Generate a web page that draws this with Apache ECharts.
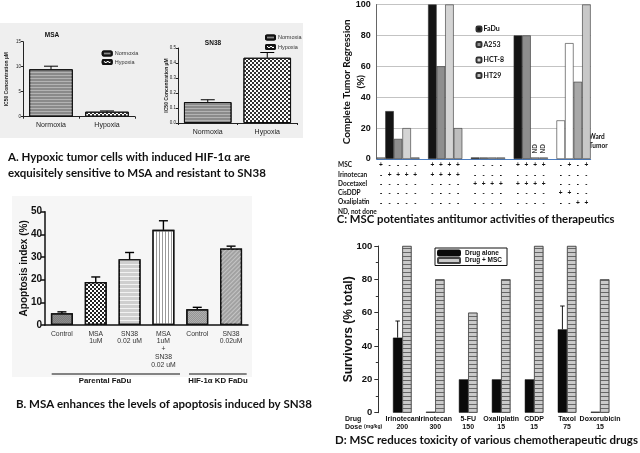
<!DOCTYPE html>
<html><head><meta charset="utf-8">
<script src="https://cdn.jsdelivr.net/npm/echarts@6/dist/echarts.min.js"></script>
<style>html,body{margin:0;padding:0;background:#fff}#c{width:640px;height:453px}</style>
</head><body><div id="c"></div>
<script>
// ---------- Panel A ----------
const aCategories = ['Normoxia', 'Hypoxia'];
const aMsaValues = [9.5, 1.0];
const aMsaErr = [10.1, 1.15];
const aSn38Values = [0.14, 0.435];
const aSn38Err = [0.155, 0.47];
const aMsaTicks = [0, 15, 5];
const aSn38Ticks = [0, 0.5, 0.1];

// ---------- Panel B ----------
const bCategories = ['Control', 'MSA\n1uM', 'SN38\n0.02 uM', 'MSA\n1uM\n+\nSN38\n0.02 uM', 'Control', 'SN38\n0.02uM'];
const bValues = [5.2, 19, 29, 42, 7, 33.8];
const bErr = [5.8, 21.2, 32, 46, 7.8, 34.8];
const bGroups = ['Parental FaDu', 'HIF-1α KD FaDu'];

// ---------- Panel C ----------
const cRowNames = ['MSC', 'Irinotecan', 'Docetaxel', 'CisDDP', 'Oxaliplatin', 'ND, not done'];
const cRowMSC         = '+----|++++|----|++++|-+-+';
const cRowIrinotecan  = '-++++|++++|----|----|----';
const cRowDocetaxel   = '-----|----|++++|++++|----';
const cRowCisDDP      = '-----|----|----|----|++--';
const cRowOxaliplatin = '-----|----|----|----|--++';
const cFaDu = [null,31,null,null,null, null,100,null,null,null, null,1,null,null,null, null,80,null,null,null, null,null,null,null,null];
const cA253 = [null,null,13,null,null, null,null,60,null,null, null,null,1,null,null, null,null,80,null,null, null,null,null,null,null];
const cHCT8 = [null,null,null,20,null, null,null,null,100,null, null,null,null,1,null, null,null,null,1,null, null,null,null,null,null];
const cHT29 = [null,null,null,null,1, null,null,null,null,20, null,null,null,null,1, null,null,null,null,1, null,null,null,null,null];
const cWard = [1,null,null,null,null, null,null,null,null,null, null,null,null,null,null, null,null,null,null,null, null,25,75,50,100];
const cNDSlots = [18, 19];

// ---------- Panel D ----------
const dCategories = ['Irinotecan\n200', 'Irinotecan\n300', '5-FU\n150', 'Oxaliplatin\n15', 'CDDP\n15', 'Taxol\n75', 'Doxorubicin\n15'];
const dDrugAlone = [45, 0.6, 20, 20, 20, 50, 0.6];
const dDrugAloneErr = [55, null, null, null, null, 64, null];
const dDrugMSC = [100, 80, 60, 80, 100, 100, 80];

// ---------- styles ----------
const FONT = 'Liberation Sans';
const CAPFONT = 'Lato';
const cWardColors = ['#d0d0d0', null, null, null, null, null, null, null, null, null, null, null, null, null, null, null, null, null, null, null, null, '#ffffff', '#ffffff', '#a8a8a8', '#c8c8c8'];

const decHoriz = (c, a, b) => ({symbol: 'rect', symbolSize: 1, dashArrayX: [1, 0], dashArrayY: [a, b], rotation: 0, color: c});
const decChecker = (c, s) => ({symbol: 'rect', symbolSize: 1, dashArrayX: [[s, s], [0, s, s, 0]], dashArrayY: [s, 0], rotation: 0, color: c});
const decVert = (c, a, b) => ({symbol: 'rect', symbolSize: 1, dashArrayX: [a, b], dashArrayY: [1, 0], rotation: 0, color: c});

const normoxiaStyle = {color: '#8a8a8a', borderColor: '#111', borderWidth: 1, decal: decHoriz('rgba(255,255,255,0.35)', 1, 2)};
const hypoxiaStyle = {color: '#ffffff', borderColor: '#111', borderWidth: 1, decal: decChecker('#333', 1.5)};

const bStyles = [
  {color: '#8c8c8c', decal: decChecker('rgba(0,0,0,0.12)', 1)},
  {color: '#ffffff', decal: decChecker('#222', 1.3)},
  {color: '#cfcfcf', decal: decHoriz('#f2f2f2', 1, 2.2)},
  {color: '#ffffff', decal: decVert('#999', 1, 1.8)},
  {color: '#b0b0b0', decal: decChecker('rgba(0,0,0,0.15)', 1)},
  {color: '#a2a2a2', decal: {symbol: 'rect', symbolSize: 1, dashArrayX: [1, 0], dashArrayY: [1, 2], rotation: -Math.PI / 4, color: '#c4c4c4'}}
];

function errRender(offsetPx, cap, lw) {
  return function (params, api) {
    const x = api.value(0), lo = api.value(1), hi = api.value(2);
    const p1 = api.coord([x, lo]), p2 = api.coord([x, hi]);
    const cx = p1[0] + offsetPx;
    const st = {stroke: '#000', lineWidth: lw};
    return {type: 'group', children: [
      {type: 'line', shape: {x1: cx, y1: p1[1], x2: cx, y2: p2[1]}, style: st},
      {type: 'line', shape: {x1: cx - cap / 2, y1: p2[1], x2: cx + cap / 2, y2: p2[1]}, style: st}
    ]};
  };
}
const errData = (vals, errs) => vals.map((v, i) => errs[i] == null ? null : [i, v, errs[i]]).filter(d => d);

// C categories from sign rows
const cRows = [cRowMSC, cRowIrinotecan, cRowDocetaxel, cRowCisDDP, cRowOxaliplatin];
const cCategories = cRowMSC.split('').map((_, i) => cRows.map(r => r[i] === '|' ? ' ' : r[i]).join('\n'));

// caption fitting
const mctx = document.createElement('canvas').getContext('2d');
function fit(text, target, fam) { mctx.font = 'bold 100px ' + fam; return 100 * target / mctx.measureText(text).width; }
const capA1 = 'A. Hypoxic tumor cells with induced HIF-1α are';
const capA2 = 'exquisitely sensitive to MSA and resistant to SN38';
const capB = 'B. MSA enhances the levels of apoptosis induced by SN38';
const capC = 'C: MSC potentiates antitumor activities of therapeutics';
const capD = 'D: MSC reduces toxicity of various chemotherapeutic drugs';
const fsA = fit(capA2, 258, CAPFONT), fsB = fit(capB, 296, CAPFONT), fsC = fit(capC, 278, CAPFONT), fsD = fit(capD, 303, CAPFONT);

function capText(x, y, text, fs) {
  return {type: 'text', x: x, y: y, style: {text: text, fill: '#111', font: 'bold ' + fs.toFixed(2) + 'px ' + CAPFONT, textVerticalAlign: 'middle'}};
}
function smallText(x, y, text, fs, align, bold) {
  return {type: 'text', x: x, y: y, style: {text: text, fill: '#111', font: (bold ? 'bold ' : '') + fs + 'px ' + FONT, textAlign: align || 'left', textVerticalAlign: 'middle'}};
}

const smallAxisY = (min, max, interval, gap, fmt) => ({
  min: min, max: max, interval: interval,
  name: 'IC50 Concentration µM', nameLocation: 'middle', nameGap: gap, nameRotate: 90, nameMoveOverlap: false,
  nameTextStyle: {fontSize: 5, fontWeight: 'bold', color: '#222', fontFamily: FONT},
  axisLine: {show: true, lineStyle: {color: '#222', width: 1}},
  axisTick: {show: true, length: 2, lineStyle: {color: '#222'}},
  axisLabel: {fontSize: 4.5, color: '#222', margin: 2, formatter: fmt},
  splitLine: {show: false}
});
const smallAxisX = (idx, margin) => ({
  type: 'category', gridIndex: idx, data: aCategories,
  axisLine: {lineStyle: {color: '#222', width: 1}},
  axisTick: {show: true, length: 2, lineStyle: {color: '#222'}},
  axisLabel: {fontSize: 7, color: '#222', margin: margin}
});

const chart = echarts.init(document.getElementById('c'), null, {renderer: 'canvas'});
const option = {
  animation: false,
  backgroundColor: '#ffffff',
  textStyle: {fontFamily: FONT},
  grid: [
    {left: 23, top: 41.7, width: 112, height: 75},
    {left: 178, top: 48, width: 119, height: 75},
    {left: 45, top: 211.7, width: 203, height: 113.3},
    {left: 376.7, top: 3.5, width: 214, height: 155.5},
    {left: 385.8, top: 246, width: 230.7, height: 166.7}
  ],
  xAxis: [
    smallAxisX(0, 5),
    smallAxisX(1, 6),
    {type: 'category', gridIndex: 2, data: bCategories,
      axisLine: {lineStyle: {color: '#111', width: 1.5}}, axisTick: {show: false},
      axisLabel: {interval: 0, fontSize: 6.8, color: '#333', lineHeight: 7.7, margin: 5}},
    {type: 'category', gridIndex: 3, data: cCategories,
      axisLine: {lineStyle: {color: '#4f7fbf', width: 1}}, axisTick: {show: false},
      axisLabel: {interval: 0, fontSize: 6.5, fontWeight: 'bold', color: '#111', lineHeight: 9.3, margin: 2}},
    {type: 'category', gridIndex: 4, data: dCategories,
      axisLine: {show: false}, axisTick: {show: false},
      axisLabel: {interval: 0, fontSize: 7, fontWeight: 'bold', color: '#111', lineHeight: 7.5, margin: 3}}
  ],
  yAxis: [
    Object.assign({gridIndex: 0}, smallAxisY(aMsaTicks[0], aMsaTicks[1], aMsaTicks[2], 14)),
    Object.assign({gridIndex: 1}, smallAxisY(aSn38Ticks[0], aSn38Ticks[1], aSn38Ticks[2], 8.5, v => v.toFixed(1))),
    {gridIndex: 2, min: 0, max: 50, interval: 10,
      name: 'Apoptosis index (%)', nameLocation: 'middle', nameGap: 16, nameRotate: 90, nameMoveOverlap: false,
      nameTextStyle: {fontSize: 10, fontWeight: 'bold', color: '#111'},
      axisLine: {show: true, lineStyle: {color: '#111', width: 1.5}},
      axisTick: {show: true, length: 4, lineStyle: {color: '#111', width: 1.5}},
      axisLabel: {fontSize: 10, fontWeight: 'bold', color: '#111', margin: 3},
      splitLine: {show: false}},
    {gridIndex: 3, min: 0, max: 100, interval: 20,
      name: 'Complete Tumor Regression\n(%)', nameLocation: 'middle', nameGap: 9, nameRotate: 90, nameMoveOverlap: false,
      nameTextStyle: {fontSize: 10, fontWeight: 'bold', color: '#111', fontFamily: CAPFONT, lineHeight: 14},
      axisLine: {show: true, lineStyle: {color: '#666', width: 1}},
      axisTick: {show: false},
      axisLabel: {fontSize: 9, fontWeight: 'bold', color: '#111', margin: 6},
      splitLine: {show: true, lineStyle: {color: '#b4b4b4', width: 0.8}}},
    {gridIndex: 4, min: 0, max: 100, interval: 20, offset: 7.5,
      name: 'Survivors (% total)', nameLocation: 'middle', nameGap: 24, nameRotate: 90, nameMoveOverlap: false,
      nameTextStyle: {fontSize: 12, fontWeight: 'bold', color: '#111'},
      axisLine: {show: true, lineStyle: {color: '#333', width: 1}},
      axisTick: {show: true, length: 4, lineStyle: {color: '#333'}},
      minorTick: {show: true, splitNumber: 2, length: 2.5, lineStyle: {color: '#333'}},
      axisLabel: {fontSize: 9.5, fontWeight: 'bold', color: '#111', margin: 6},
      splitLine: {show: false}}
  ],
  legend: [
    {data: aCategories, orient: 'vertical', left: 96.7, top: 45.5, itemWidth: 9, itemHeight: 4, itemGap: 2.5,
      textStyle: {fontSize: 5.5, color: '#333', padding: [0, 0, 0, -2]}, selectedMode: false},
    {data: aCategories, orient: 'vertical', left: 260, top: 29.5, itemWidth: 9, itemHeight: 4, itemGap: 3.5,
      textStyle: {fontSize: 5.5, color: '#333', padding: [0, 0, 0, -2]}, selectedMode: false},
    {data: ['FaDu', 'A253', 'HCT-8', 'HT29'], orient: 'vertical', left: 470.5, top: 20.5, itemWidth: 5, itemHeight: 5, itemGap: 8.5,
      textStyle: {fontSize: 7, fontWeight: 'bold', color: '#111', fontFamily: CAPFONT, padding: [0, 0, 0, -3]}, selectedMode: false},
    {data: ['Drug alone', 'Drug + MSC'], orient: 'vertical', left: 435, top: 248, itemWidth: 22, itemHeight: 5, itemGap: 0.5,
      padding: [1.5, 5, 1.5, 2], borderColor: '#111', borderWidth: 1,
      textStyle: {fontSize: 6.5, fontWeight: 'bold', color: '#111'}, selectedMode: false}
  ],
  series: [
    // A1
    {name: 'Normoxia', type: 'bar', xAxisIndex: 0, yAxisIndex: 0, stack: 'a1', barWidth: '78%', itemStyle: normoxiaStyle,
      data: aMsaValues.map((v, i) => i === 0 ? v : null)},
    {name: 'Hypoxia', type: 'bar', xAxisIndex: 0, yAxisIndex: 0, stack: 'a1', barWidth: '70%', itemStyle: hypoxiaStyle,
      data: aMsaValues.map((v, i) => i === 1 ? v : null)},
    {type: 'custom', xAxisIndex: 0, yAxisIndex: 0, renderItem: errRender(0, 14, 1), data: errData(aMsaValues, aMsaErr), encode: {x: 0, y: [1, 2]}, z: 3},
    // A2
    {name: 'Normoxia', type: 'bar', xAxisIndex: 1, yAxisIndex: 1, stack: 'a2', barWidth: '80%', itemStyle: normoxiaStyle,
      data: aSn38Values.map((v, i) => i === 0 ? v : null)},
    {name: 'Hypoxia', type: 'bar', xAxisIndex: 1, yAxisIndex: 1, stack: 'a2', barWidth: '66%', itemStyle: hypoxiaStyle,
      data: aSn38Values.map((v, i) => i === 1 ? v : null)},
    {type: 'custom', xAxisIndex: 1, yAxisIndex: 1, renderItem: errRender(0, 14, 1), data: errData(aSn38Values, aSn38Err), encode: {x: 0, y: [1, 2]}, z: 3},
    // B
    {name: 'B', type: 'bar', xAxisIndex: 2, yAxisIndex: 2, barWidth: 22,
      itemStyle: {borderColor: '#111', borderWidth: 1.3},
      data: bValues.map((v, i) => ({value: v, itemStyle: bStyles[i]}))},
    {type: 'custom', xAxisIndex: 2, yAxisIndex: 2, renderItem: errRender(0, 9, 1.4), data: errData(bValues, bErr), encode: {x: 0, y: [1, 2]}, z: 3},
    // C
    ...[['FaDu', cFaDu, '#141414'], ['A253', cA253, '#8e8e8e'], ['HCT-8', cHCT8, '#d4d4d4'], ['HT29', cHT29, '#bdbdbd']].map(s => ({
      name: s[0], type: 'bar', xAxisIndex: 3, yAxisIndex: 3, stack: 'c', barCategoryGap: '0%',
      itemStyle: {color: s[2], borderColor: '#333', borderWidth: 0.6},
      data: s[1].map((v, i) => v == null ? null : (cNDSlots.indexOf(i) >= 0 ? {value: v, label: {show: true, formatter: 'ND', position: 'top', distance: 4, rotate: 90, align: 'left', verticalAlign: 'middle', fontSize: 6.5, fontWeight: 'bold', color: '#444'}} : v))
    })),
    {name: 'Ward', type: 'bar', xAxisIndex: 3, yAxisIndex: 3, stack: 'c', barCategoryGap: '0%',
      itemStyle: {borderColor: '#333', borderWidth: 0.6},
      data: cWard.map((v, i) => v == null ? null : {value: v, itemStyle: {color: cWardColors[i]}})},
    // D
    {name: 'Drug alone', type: 'bar', xAxisIndex: 4, yAxisIndex: 4, barWidth: 9.3, barGap: '0%',
      itemStyle: {color: '#0a0a0a', borderColor: '#0a0a0a', borderWidth: 0.5}, data: dDrugAlone},
    {name: 'Drug + MSC', type: 'bar', xAxisIndex: 4, yAxisIndex: 4, barWidth: 9.3, barGap: '0%',
      itemStyle: {color: '#cacaca', borderColor: '#444', borderWidth: 0.6, decal: decHoriz('#666', 0.7, 2.6)}, data: dDrugMSC},
    {type: 'custom', xAxisIndex: 4, yAxisIndex: 4, renderItem: errRender(-4.65, 4.5, 0.9), data: errData(dDrugAlone, dDrugAloneErr), encode: {x: 0, y: [1, 2]}, z: 3}
  ],
  graphic: {elements: [
    {type: 'rect', shape: {x: 0, y: 23, width: 303, height: 115}, style: {fill: '#efefef'}, z: -5, silent: true},
    {type: 'rect', shape: {x: 12, y: 196, width: 240, height: 181}, style: {fill: '#f6f6f6'}, z: -5, silent: true},
    smallText(52, 35, 'MSA', 6.5, 'center', true),
    smallText(213, 43, 'SN38', 6.5, 'center', true),
    capText(8, 157, capA1, fsA),
    capText(8, 173.3, capA2, fsA),
    // B group brackets
    {type: 'line', shape: {x1: 51.7, y1: 374, x2: 180, y2: 374}, style: {stroke: '#111', lineWidth: 1}},
    {type: 'line', shape: {x1: 189, y1: 374, x2: 246.7, y2: 374}, style: {stroke: '#111', lineWidth: 1}},
    smallText(105, 380.5, bGroups[0], 7.8, 'center', true),
    smallText(218, 380.5, bGroups[1], 7.8, 'center', true),
    capText(16, 404.3, capB, fsB),
    // C row labels
    ...cRowNames.map((n, i) => ({type: 'text', x: 338, y: 165.3 + i * 9.25, style: {text: n, fill: '#111', font: 'bold 6.5px ' + CAPFONT, textVerticalAlign: 'middle'}})),
    {type: 'text', x: 589, y: 141.5, style: {text: 'Ward\nTumor', fill: '#111', font: 'bold 6.5px ' + CAPFONT, textVerticalAlign: 'middle', lineHeight: 9}},
    capText(336.7, 219, capC, fsC),
    // D row labels
    {type: 'text', x: 345, y: 419.3, style: {text: 'Drug', fill: '#111', font: 'bold 7px ' + FONT, textVerticalAlign: 'middle'}},
    {type: 'text', x: 345, y: 426.8, style: {text: '{a|Dose }{b|(mg/kg)}', rich: {a: {fontSize: 7, fontWeight: 'bold', fontFamily: FONT, fill: '#111'}, b: {fontSize: 5, fontWeight: 'bold', fontFamily: FONT, fill: '#111'}}, textVerticalAlign: 'middle'}},
    capText(335, 440.7, capD, fsD)
  ]}
};
chart.setOption(option);
</script></body></html>
